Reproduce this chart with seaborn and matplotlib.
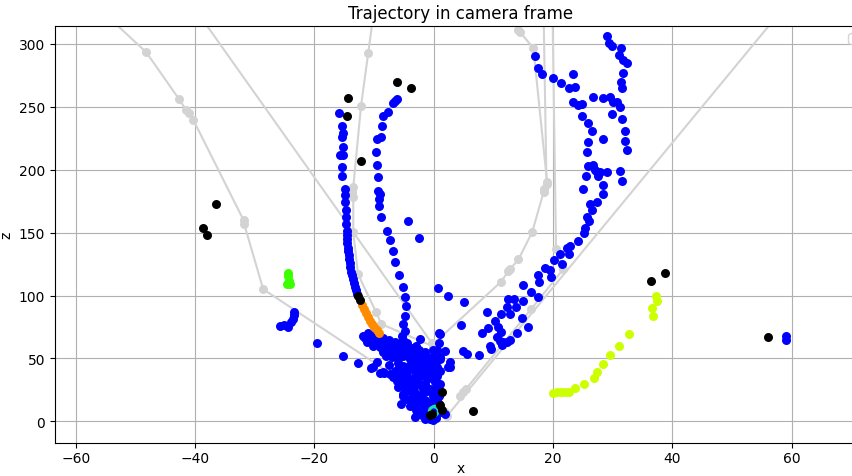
import matplotlib
matplotlib.use("Agg")
import matplotlib.pyplot as plt
import seaborn as sns
import pandas as pd

# ---------------- data (x, z in camera frame) ----------------
blue_x = [
    # left arc
    -15.9, -15.4, -15.2, -15.4, -15.2, -15.7, -15.2, -15.4, -15.4, -14.9, -14.9, -14.9,
    -14.7, -14.7, -14.7, -14.5, -14.5, -14.5, -14.5, -14.4, -14.4, -14.2, -14.2, -14.0,
    -14.0, -13.9, -13.7, -13.5, -13.4, -13.2, -13.0, -12.9,
    # right arc
    -6.1, -6.5, -6.8, -7.7, -8.5, -8.7, -8.8, -9.5, -9.7, -9.5, -9.3, -9.3, -9.0, -9.2,
    -9.2, -8.8, -7.8, -7.3, -6.8, -6.5, -5.8, -5.1, -4.8, -4.6, -4.8, -5.1, -4.8, -5.1,
    -4.3, -2.4, 0.7, 2.4, 5.1,
    # upper right structure
    29.1, 29.4, 29.9, 31.4, 31.1, 31.8, 32.4, 31.8, 31.4, 31.6, 17.0, 17.5, 18.2, 20.0,
    21.4, 23.4, 22.6, 23.6, 23.4, 24.2, 24.9, 24.9, 25.9, 26.6, 26.7, 28.3, 29.6, 30.1,
    30.8, 31.3, 29.9, 31.6, 32.1, 28.3, 32.1, 32.4, 25.9, 25.7, 25.9, 26.7, 27.1, 27.4,
    27.9, 29.1, 27.6, 25.6, 31.3, 31.6, 28.4, 25.1, 28.4, 27.4, 26.2, 26.6, 25.7, 26.1,
    25.4, 25.2, 24.1, 22.9, 22.4, 22.7, 21.2, 20.2, 21.5, 18.7, 19.5, 19.7, 17.4, 17.7,
    15.0, 16.3, 17.4, 12.5, 13.5, 15.0, 12.3, 13.8, 9.0, 11.3, 12.8, 14.8, 15.8, 4.6,
    10.3, 9.1, 10.8, 11.3, 8.1, 10.6, 11.1, 11.6, 12.8, 14.0, 9.5, 9.6, 11.5, 12.3,
    0.9, 4.9, 5.6, 7.6, 1.9, 1.1, 0.2, 0.6, 2.8, 2.8, 1.1,
    # far right
    59.1, 59.1,
    # left cluster
    -25.8, -25.1, -24.4, -23.9, -23.6, -23.4, -23.4, -19.6, -15.2, -12.7, -10.5, -9.0,
    -8.3, -6.8,
    # central cluster
    -11.8, -10.7, -9.5, -8.5, -11.2, -10.2, -9.0, -7.3, -6.1, -5.1, -4.0, -2.8, -1.8,
    -1.1, -0.6, -7.8, -6.8, -5.6, -4.5, -3.5, -2.6, -6.8, -7.0, -6.0, -5.1, -4.5, -5.3,
    -2.3, 1.1, 1.1, 2.4, -5.1, -4.0, -4.5, -3.5, -5.1, -4.0, -2.8, -2.3, -1.8, -1.1,
    -0.6, -0.1, -1.1, -1.8, -0.9, -0.6, 0.6, 1.1, 1.9, -2.8, -2.3, -3.5, 0.2, 0.6, -0.3,
    -1.4, -1.1, -4.0, -10.2, -8.5, -7.3, -6.1,
    -3.0, -2.0, -4.0, -3.0, -1.0, -2.0, 0.0, -0.5, 0.5, 0.8, 1.0, -3.5, -2.0, -6.0,
    -8.0, -5.0, -6.0, -1.5, -0.3, 0.3, -0.2, 0.3, -5.5, -7.5, -9.5, -8.5, -4.5, -3.0,
    -1.5, -0.5, -2.5, -3.8, -2.0, 0.9, -1.2, -5.5, -3.2,
    -11.5, -10.5, -9.8, -9.0, -8.0, -7.0, -6.0, -5.0, -4.0, -3.0, -2.0, -1.0, -10.0,
    -11.0, -8.5, -7.5, -6.5, -5.5, -4.5, -3.5, -2.5, -1.5, -0.8,
    -5.5, -4.8, -4.2, -3.8, -3.3, -2.8, -2.4, -2.0, -1.6, -1.2, -0.8, -0.5, -0.2, 0.3,
    0.7, 0.9, 0.8, 0.5, 0.2, -0.3, -4.6, -5.2, -4.6, -3.7, -3.0, -2.4, -1.5, -0.1, -0.3,
    -1.2, -1.5, -2.6, -3.2, -1.8, -6.5, -5.8, -4.2, -2.8, 0.0, 0.5, 0.9, -6.2, -5.8,
]
blue_z = [
    245, 235, 229, 226, 218, 212, 212, 202, 195, 185, 180, 174,
    168, 162, 157, 151, 148, 145, 142, 138, 135, 132, 129, 126,
    123, 119, 116, 113, 110, 107, 104, 101,
    256, 254.5, 253, 246, 243, 235, 226, 224, 214, 204, 194, 183, 181, 177,
    171, 162, 151, 144, 135, 127, 116, 107, 99, 92, 84, 77, 72, 65,
    159, 146, 106, 100, 95,
    306, 301, 298, 297, 291, 287, 285, 277, 270, 265, 290, 281, 276, 273,
    269, 276, 265, 266, 254, 251, 252, 243, 237, 231, 258, 257, 258, 254,
    254, 250, 244, 240, 231, 224, 223, 216, 222, 214, 203, 204, 200, 198,
    198, 198, 195, 195, 199, 191, 188, 185, 181, 174, 173, 168, 162, 159,
    154, 150, 143, 139, 138, 133, 133, 128, 125, 122, 120, 115, 116, 111,
    108, 103, 99, 97, 97, 96, 91, 91, 87, 85, 85, 82, 75, 76.5,
    80, 74, 75, 71, 70, 67, 64, 63, 65, 70, 60, 57.5, 61, 63,
    70, 56, 53.5, 53, 56, 51, 45.5, 43, 47, 43, 40,
    67.8, 64.6,
    75.7, 76.5, 75, 79, 81, 84.5, 87, 62, 52, 46.3, 42.3, 38.4,
    38.4, 35,
    68, 67, 65.4, 63.8, 63, 60, 59, 57.4, 55, 52, 49.5, 48, 45.5,
    48, 41.6, 63, 61.4, 60, 57.4, 55, 51, 55, 51, 49.5, 44, 39, 67.8,
    65.4, 69.4, 49.5, 43, 36, 33.6, 28, 25.7, 20, 17.7, 15.3, 20, 28, 33.6,
    25.7, 20, 15.3, 9.8, 5.8, 1.8, 12.2, 7.4, 5.8, 7.4, 39, 41.6, 31, 36, 44,
    39, 9.8, 12.2, 43, 39, 37.6, 35.2,
    30, 22, 24, 12, 3, 5, 6, 12, 18, 25, 30, 46, 42, 46,
    52, 30, 27, 17, 36, 52, 57, 2.5, 40, 45, 47, 55, 62, 60,
    55, 50, 35, 18, 27, 21, 46, 14, 3.5,
    66, 65, 63, 62, 61, 59, 58, 56, 54, 52, 50, 47, 69,
    70, 66.5, 64.5, 63, 62, 60.5, 58.5, 56.5, 52.5, 50,
    36, 33, 30, 27, 24, 21, 18, 15, 12, 9, 6, 4, 1, 4,
    9, 14, 20, 27, 33, 40, 25, 22, 18, 15, 9, 7, 2, 15, 24,
    24, 30, 31, 36, 38, 40, 43, 44, 44, 48, 57, 62, 32, 28,
]

orange_x = [-12.0, -11.7, -11.3, -11.0, -10.7, -10.3, -10.0, -9.5, -9.2]
orange_z = [92.4, 89, 86, 83, 80, 77, 75, 72.5, 70]

lime_x = [-24.4, -24.4, -24.2, -24.6, -24.1]
lime_z = [117.6, 115.4, 111.5, 109, 109]

yellow_x = [20.0, 20.7, 21.4, 22.0, 22.7, 23.7, 25.2, 26.9, 27.4, 28.4, 29.6, 31.0,
            32.8, 36.8, 36.6, 37.5, 37.3]
yellow_z = [22.5, 23.3, 23.3, 23.3, 23.3, 26.5, 29.6, 34.4, 39.2, 45.5, 52.7, 59.8,
            69.4, 83.7, 90, 95.6, 99.5]

teal_x = [-0.1, 0.2, 0.0]
teal_z = [8.2, 9.0, 7.4]

black_x = [-6.1, -3.8, -14.4, -14.5, -12.2, -36.5, -38.7, -38.0, -12.7, -12.3, 1.4,
           1.1, 1.4, -0.3, -0.6, 6.6, 36.5, 38.8, 56.1]
black_z = [270, 265, 257, 242.6, 206.9, 172.7, 153.6, 148, 99.5, 96.4, 23.3,
           13, 9, 5.8, 5, 8.2, 111.5, 117.8, 67]

# gray trajectories (some start above the visible frame)
grayA_x = [-56.0, -48.2, -42.7, -41.5, -41.0, -40.3, -31.9, -31.8, -28.6, -5.3]
grayA_z = [327.6, 293.3, 256, 247.3, 245, 239.4, 160, 157, 105, 32]
grayB_x = [-40.0, -0.3]
grayB_z = [327.6, 62]
grayC_x = [-10.0, -11.0, -12.2, -13.5, -13.7, -13.5, -13.5, -12.7, -9.7, -8.8, -0.1]
grayC_z = [327.6, 292.5, 250.5, 186, 182, 178, 150.4, 117, 87, 77.3, 59.6]
grayD_x = [-0.3, -0.1, 11.3, 12.5, 12.8, 14.2, 16.5, 18.4, 18.4, 19.0, 16.7, 14.5, 14.2, 13.2]
grayD_z = [55.8, 61.4, 111, 119.5, 121, 128.7, 150.4, 182, 184.6, 190, 296.5, 309.2, 310.8, 324]
grayE_x = [18.4, 18.9]
grayE_z = [327.6, 188.6]
grayG_x = [19.9, 20.5, 21.7, 16.3, 5.4, 4.9, 4.4]
grayG_z = [327.6, 137, 120.8, 89, 25.7, 23.3, 20]
grayF_x = [58.9, 2.2, 1.9]
grayF_z = [330, 4.2, 7.4]

gray_tracks = [(grayA_x, grayA_z), (grayB_x, grayB_z), (grayC_x, grayC_z),
               (grayD_x, grayD_z), (grayE_x, grayE_z), (grayG_x, grayG_z),
               (grayF_x, grayF_z)]

# ---------------- plot ----------------
fig = plt.figure(figsize=(8.53, 4.77), dpi=100)
ax = fig.add_axes([0.0645, 0.0692, 0.951, 0.874])

GRAY = "#d3d3d3"
for i, (gx, gz) in enumerate(gray_tracks):
    df = pd.DataFrame({"x": gx, "z": gz})
    sns.lineplot(data=df, x="x", y="z", sort=False, estimator=None, color=GRAY,
                 linewidth=1.5, ax=ax, zorder=1)
    sns.scatterplot(data=df, x="x", y="z", color=GRAY, s=42, linewidth=0, ax=ax,
                    zorder=2)

def dots(xs, zs, color, z=3):
    sns.scatterplot(x=xs, y=zs, color=color, s=42, linewidth=0, ax=ax, zorder=z)

dots(blue_x, blue_z, "#0000ff")
dots(orange_x, orange_z, "#ff8c00")
dots(lime_x, lime_z, "#3cff00")
dots(yellow_x, yellow_z, "#ccff00")
sns.scatterplot(x=teal_x, y=teal_z, s=42, facecolor="none", edgecolor="#20e0a0",
                linewidth=1.2, ax=ax, zorder=4)
dots(black_x, black_z, "black", z=5)

ax.set_xlim(-63.5, 72.5)
ax.set_ylim(-17.2, 314.1)
ax.set_xticks([-60, -40, -20, 0, 20, 40, 60])
ax.set_yticks([0, 50, 100, 150, 200, 250, 300])
ax.tick_params(axis="x", pad=2.5)
ax.grid(True, color="#b0b0b0", linewidth=0.8)
ax.set_axisbelow(True)
ax.set_xlabel("x")
ax.xaxis.set_label_coords(0.5, -0.043)
ax.set_ylabel("z")
ax.set_title("Trajectory in camera frame")
ax.legend(handles=[], loc="upper right")

fig.savefig("out.png", dpi=100)
